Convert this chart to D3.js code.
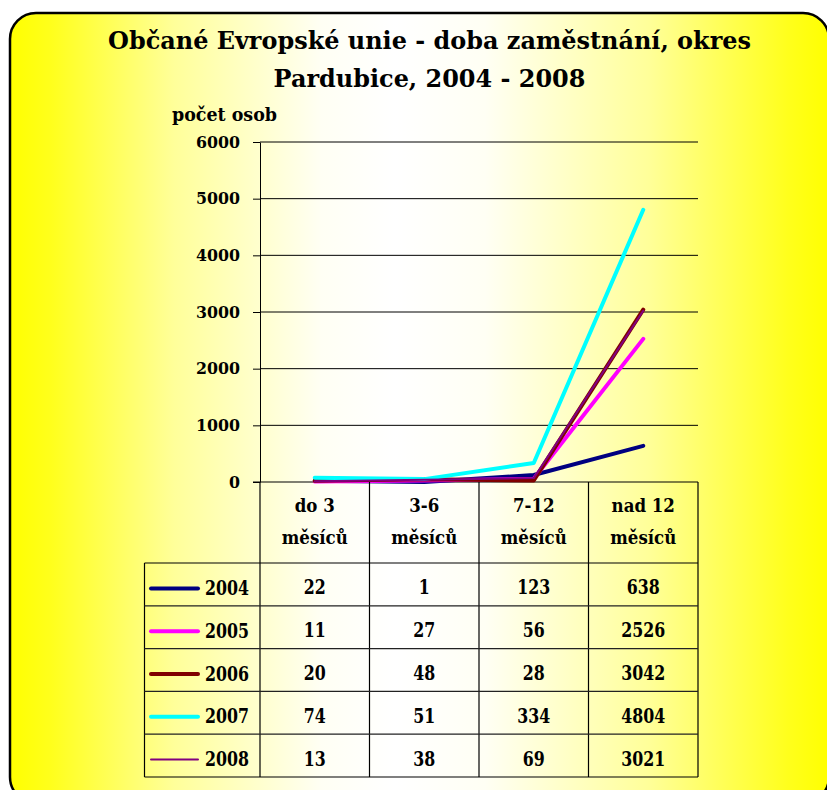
<!DOCTYPE html>
<html>
<head>
<meta charset="utf-8">
<script src="https://cdn.jsdelivr.net/npm/d3@7"></script>
<style>
  html, body { margin: 0; padding: 0; background: #ffffff; }
  svg { display: block; }
  text { font-family: "DejaVu Serif", "Liberation Serif", serif; font-weight: bold; fill: #000; }
</style>
</head>
<body>
<svg id="chart" width="827" height="790"></svg>
<script>
// ---- data ----
const titleLines = ["Občané Evropské unie - doba zaměstnání, okres", "Pardubice, 2004 - 2008"];
const yTitle = "počet osob";
const categories = ["do 3 měsíců", "3-6 měsíců", "7-12 měsíců", "nad 12 měsíců"];
const categoryTop = ["do 3", "3-6", "7-12", "nad 12"];
const categoryBottom = ["měsíců", "měsíců", "měsíců", "měsíců"];
const years = ["2004", "2005", "2006", "2007", "2008"];
const values2004 = [22, 1, 123, 638];
const values2005 = [11, 27, 56, 2526];
const values2006 = [20, 48, 28, 3042];
const values2007 = [74, 51, 334, 4804];
const values2008 = [13, 38, 69, 3021];
const seriesColors = ["#000080", "#ff00ff", "#800000", "#00ffff", "#800080"];
const seriesWidths = [4, 4, 4, 4, 2];
const yTicks = [0, 1000, 2000, 3000, 4000, 5000, 6000];

const series = [values2004, values2005, values2006, values2007, values2008].map((v, i) => ({
  year: years[i], values: v, color: seriesColors[i], width: seriesWidths[i]
}));

// ---- layout ----
const svg = d3.select("#chart");
const plotLeft = 260, plotRight = 698, plotTop = 142, plotBottom = 482;
const tableBottom = 777, headerBottom = 563, legendLeft = 144.5;

const defs = svg.append("defs");
const grad = defs.append("linearGradient").attr("id", "bg")
  .attr("gradientUnits", "userSpaceOnUse").attr("x1", 10).attr("x2", 829).attr("y1", 0).attr("y2", 0);
[[0, "#ffff00"], [0.05, "#ffff1c"], [0.2, "#ffff99"], [0.38, "#fffff4"], [0.47, "#ffffff"],
 [0.58, "#fffff4"], [0.78, "#ffff99"], [0.95, "#ffff1c"], [1, "#ffff00"]]
  .forEach(([o, c]) => grad.append("stop").attr("offset", o).attr("stop-color", c));

svg.append("rect").attr("x", 10).attr("y", 13).attr("width", 819).attr("height", 790)
  .attr("rx", 26).attr("ry", 26).attr("fill", "url(#bg)").attr("stroke", "#000").attr("stroke-width", 2.5);

// horizontal condensing factor so that `str` at `size` spans `target` px
function factor(str, size, target) {
  const t = svg.append("text").attr("font-size", size).text(str);
  const w = t.node().getComputedTextLength();
  t.remove();
  return target / w;
}
function condense(sel, k) {
  sel.each(function () {
    const l = this.getComputedTextLength();
    d3.select(this).attr("textLength", l * k).attr("lengthAdjust", "spacingAndGlyphs");
  });
}

const axisTitleSize = 19, tickSize = 17, headSize = 18, cellSize = 20;
const titleSize = 24 * factor(titleLines[0], 24, 643);
const kAxisTitle = factor(yTitle, axisTitleSize, 105);
const kTick = factor("6000", tickSize, 44);
const kHead = factor("měsíců", headSize, 66);
const kCell = factor("2004", cellSize, 44);

// title
svg.append("g").selectAll("text").data(titleLines).join("text")
  .attr("x", 429.5).attr("y", (d, i) => i === 0 ? 49 : 87).attr("text-anchor", "middle")
  .attr("font-size", titleSize).text(d => d);

const yt = svg.append("text").attr("x", 172).attr("y", 121).attr("font-size", axisTitleSize).text(yTitle);
condense(yt, kAxisTitle);

// scales
const x = d3.scaleBand().domain(categories).range([plotLeft, plotRight]);
const y = d3.scaleLinear().domain([0, 6000]).range([plotBottom, plotTop]);

// gridlines
svg.append("g").selectAll("line").data(yTicks.filter(d => d > 0)).join("line")
  .attr("x1", plotLeft).attr("x2", plotRight)
  .attr("y1", d => y(d)).attr("y2", d => y(d))
  .attr("stroke", "#000").attr("stroke-width", 1);

// axis
const axis = svg.append("g").attr("transform", `translate(${plotLeft},0)`)
  .call(d3.axisLeft(y).tickValues(yTicks).tickFormat(d3.format("d")).tickSize(7).tickSizeOuter(0).tickPadding(13));
axis.attr("font-family", null).attr("font-size", null);
axis.select(".domain").attr("stroke", "#000").attr("stroke-width", 1);
axis.selectAll(".tick line").attr("stroke", "#000");
const tickTexts = axis.selectAll(".tick text").attr("font-size", tickSize).attr("fill", "#000").attr("dy", "0.3em");
condense(tickTexts, kTick);

// baseline/0 line across plot (top of table)
svg.append("line").attr("x1", plotLeft - 7).attr("x2", plotRight).attr("y1", y(0)).attr("y2", y(0))
  .attr("stroke", "#000").attr("stroke-width", 1.2);

// series lines
const line = d3.line()
  .x((d, i) => x(categories[i]) + x.bandwidth() / 2)
  .y(d => y(d));
svg.append("g").selectAll("path").data(series).join("path")
  .attr("d", d => line(d.values))
  .attr("fill", "none").attr("stroke", d => d.color).attr("stroke-width", d => d.width)
  .attr("stroke-linejoin", "round").attr("stroke-linecap", "round");

// ---- data table ----
const rows = d3.scaleBand().domain(years).range([headerBottom, tableBottom]);
const tbl = svg.append("g");
const colEdges = categories.map(c => x(c)).concat([plotRight]);
tbl.selectAll("line.v").data(colEdges).join("line").attr("class", "v")
  .attr("x1", d => d).attr("x2", d => d).attr("y1", plotBottom).attr("y2", tableBottom)
  .attr("stroke", "#000").attr("stroke-width", 1.2);
tbl.append("line").attr("x1", legendLeft).attr("x2", legendLeft).attr("y1", headerBottom).attr("y2", tableBottom)
  .attr("stroke", "#000").attr("stroke-width", 1.2);
const rowEdges = years.map(yr => rows(yr)).concat([tableBottom]);
tbl.selectAll("line.h").data(rowEdges).join("line").attr("class", "h")
  .attr("x1", legendLeft).attr("x2", plotRight).attr("y1", d => d).attr("y2", d => d)
  .attr("stroke", (d, i) => (i === 0 || i === rowEdges.length - 1) ? "#000" : "#222").attr("stroke-width", 1.2);

// header texts
const ct = tbl.selectAll("text.ct").data(categories).join("text").attr("class", "ct")
  .attr("x", d => x(d) + x.bandwidth() / 2).attr("y", 511.5).attr("text-anchor", "middle")
  .attr("font-size", headSize)
  .text((d, i) => categoryTop[i]);
const cb = tbl.selectAll("text.cb").data(categories).join("text").attr("class", "cb")
  .attr("x", d => x(d) + x.bandwidth() / 2).attr("y", 544).attr("text-anchor", "middle")
  .attr("font-size", headSize)
  .text((d, i) => categoryBottom[i]);
condense(ct, kHead);
condense(cb, kHead);

// rows
const rowG = tbl.selectAll("g.row").data(series).join("g").attr("class", "row")
  .attr("transform", d => `translate(0,${rows(d.year) + rows.bandwidth() / 2})`);
rowG.append("line").attr("x1", 151).attr("x2", 198).attr("y1", 4).attr("y2", 4)
  .attr("stroke", d => d.color).attr("stroke-width", d => d.width).attr("stroke-linecap", "round");
const yrT = rowG.append("text").attr("x", 205).attr("y", 10.5).attr("font-size", cellSize)
  .text(d => d.year);
const valT = rowG.selectAll("text.val").data(d => d.values).join("text").attr("class", "val")
  .attr("x", (d, i) => x(categories[i]) + x.bandwidth() / 2).attr("y", 10)
  .attr("text-anchor", "middle").attr("font-size", cellSize)
  .text(d => d);
condense(yrT, kCell);
condense(valT, kCell);
</script>
</body>
</html>
